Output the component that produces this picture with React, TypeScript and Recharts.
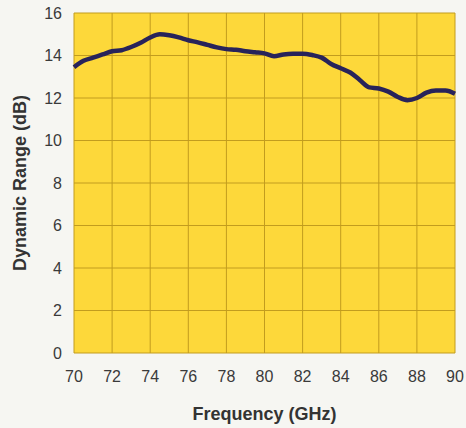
import { LineChart, Line, XAxis, YAxis, CartesianGrid } from 'recharts'

const frequency = [
  70, 70.5, 71, 71.5, 72, 72.5, 73, 73.5, 74, 74.5, 75, 75.5, 76, 76.5, 77, 77.5, 78, 78.5, 79, 79.5,
  80, 80.5, 81, 81.5, 82, 82.5, 83, 83.5, 84, 84.5, 85, 85.5, 86, 86.5, 87, 87.5, 88, 88.5, 89, 89.5, 90,
]
const dynamicRange = [
  13.45, 13.75, 13.9, 14.05, 14.2, 14.25, 14.4, 14.6, 14.85, 15.0, 14.95, 14.85, 14.72, 14.62, 14.5, 14.38,
  14.3, 14.27, 14.2, 14.15, 14.1, 13.97, 14.05, 14.08, 14.08, 14.02, 13.9, 13.6, 13.4, 13.2, 12.85, 12.5,
  12.45, 12.3, 12.05, 11.9, 12.0, 12.25, 12.35, 12.35, 12.2,
]
const xTicks = [70, 72, 74, 76, 78, 80, 82, 84, 86, 88, 90]
const yTicks = [0, 2, 4, 6, 8, 10, 12, 14, 16]

const data = frequency.map((f, i) => ({ f, dr: dynamicRange[i] }))

const font = '"Liberation Sans", Arial, sans-serif'

// rotated y title, centred on the plot's height
const YTitle = ({ viewBox }: any) => {
  const cx = 20
  const cy = viewBox.y + viewBox.height / 2
  return (
    <text
      x={cx}
      y={cy}
      transform={`rotate(-90 ${cx} ${cy})`}
      textAnchor="middle"
      dominantBaseline="central"
      fill="#333"
      fontSize={18}
      fontWeight="bold"
      fontFamily={font}
    >
      Dynamic Range (dB)
    </text>
  )
}

export default function App() {
  return (
    <div style={{ position: 'absolute', left: 0, top: 0, width: 466, height: 428, background: '#f6f6f2' }}>
      <style>{`body{margin:0}`}</style>
      <LineChart width={466} height={428} data={data} margin={{ top: 13, right: 11, bottom: 0, left: 0 }}>
        <CartesianGrid
          fill="#fdd83a"
          stroke="#c29c1e"
          strokeWidth={1}
          horizontalValues={yTicks}
          verticalValues={xTicks}
        />
        <XAxis
          dataKey="f"
          type="number"
          domain={[70, 90]}
          ticks={xTicks}
          height={75}
          tickLine={false}
          axisLine={false}
          tickMargin={12}
          tick={{ fill: '#3a3a3a', fontSize: 16, fontFamily: font }}
          label={{
            value: 'Frequency (GHz)',
            position: 'insideBottom',
            offset: 8,
            style: { fill: '#333', fontSize: 18, fontWeight: 'bold', fontFamily: font },
          }}
        />
        <YAxis
          type="number"
          domain={[0, 16]}
          ticks={yTicks}
          width={74}
          tickLine={false}
          axisLine={false}
          tickMargin={6}
          tick={{ fill: '#3a3a3a', fontSize: 16, fontFamily: font }}
          label={<YTitle />}
        />
        <Line
          type="monotone"
          dataKey="dr"
          stroke="#28235a"
          strokeWidth={4.5}
          dot={false}
          isAnimationActive={false}
        />
      </LineChart>
    </div>
  )
}
